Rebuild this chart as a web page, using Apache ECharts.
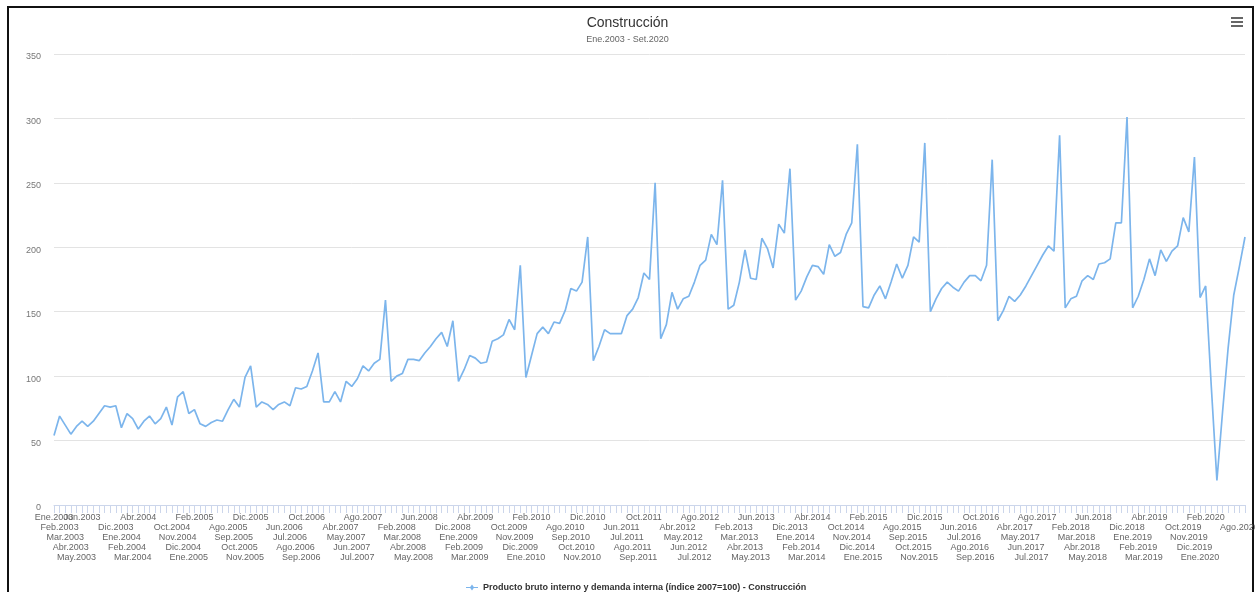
<!DOCTYPE html>
<html>
<head>
<meta charset="utf-8">
<script src="https://cdn.jsdelivr.net/npm/echarts@6/dist/echarts.min.js"></script>
<style>
html,body{margin:0;padding:0;background:#fff;}
#chart{width:1255px;height:592px;}
</style>
</head>
<body>
<div id="chart"></div>
<script>
// ---- data ----
const monthNames = ['Ene','Feb','Mar','Abr','May','Jun','Jul','Ago','Sep','Oct','Nov','Dic'];
const firstYear = 2003;
const lastYear = 2020;
const lastMonthOfLastYear = 9; // Sep 2020

const values = [
  // 2003
  54, 69, 62, 55, 61, 65, 61, 65, 71, 77, 76, 77,
  // 2004
  60, 71, 67, 59, 65, 69, 63, 67, 76, 62, 84, 88,
  // 2005
  71, 74, 63, 61, 64, 66, 65, 74, 82, 76, 99, 108,
  // 2006
  76, 80, 78, 74, 78, 80, 77, 91, 90, 92, 104, 118,
  // 2007
  80, 80, 88, 80, 96, 92, 98, 108, 104, 110, 113, 159,
  // 2008
  96, 100, 102, 113, 113, 112, 118, 123, 129, 134, 123, 143,
  // 2009
  96, 105, 116, 114, 110, 111, 127, 129, 132, 144, 136, 186,
  // 2010
  99, 116, 133, 138, 133, 142, 141, 151, 168, 166, 173, 208,
  // 2011
  112, 123, 136, 133, 133, 133, 147, 152, 161, 180, 175, 250,
  // 2012
  129, 140, 165, 152, 160, 162, 173, 186, 190, 210, 202, 252,
  // 2013
  152, 155, 173, 198, 176, 175, 207, 199, 184, 218, 211, 261,
  // 2014
  159, 166, 177, 186, 185, 179, 202, 193, 196, 210, 219, 280,
  // 2015
  154, 153, 163, 170, 160, 173, 187, 176, 186, 208, 204, 281,
  // 2016
  150, 160, 168, 173, 169, 166, 173, 178, 178, 174, 186, 268,
  // 2017
  143, 151, 162, 158, 163, 170, 178, 186, 194, 201, 197, 287,
  // 2018
  153, 160, 162, 174, 178, 175, 187, 188, 191, 219, 219, 301,
  // 2019
  153, 162, 175, 191, 178, 198, 189, 197, 201, 223, 212, 270,
  // 2020
  161, 170, 92, 19, 72, 122, 163, 185, 208
];

const yTicks = [0, 50, 100, 150, 200, 250, 300, 350];

const titleText = 'Construcción';
const subtitleText = 'Ene.2003 - Set.2020';
const seriesName = 'Producto bruto interno y demanda interna (índice 2007=100) - Construcción';

// categories built from month names and years
const categories = [];
for (let y = firstYear; y <= lastYear; y++) {
  const lastM = (y === lastYear) ? lastMonthOfLastYear : 12;
  for (let m = 0; m < lastM; m++) categories.push(monthNames[m] + '.' + y);
}

function showLabel(i) {
  if (i === categories.length - 1) return false;
  if (i < 5) return true;
  const r = i % 10;
  return r >= 1 && r <= 5;
}

const chart = echarts.init(document.getElementById('chart'), null, {renderer: 'canvas'});
const FONT = '"Liberation Sans", Arial, sans-serif';

chart.setOption({
  backgroundColor: '#fff',
  animation: false,
  title: {
    text: titleText,
    subtext: subtitleText,
    left: 'center',
    top: 11,
    itemGap: 5,
    textStyle: {fontFamily: FONT, fontSize: 14, fontWeight: 'normal', color: '#333'},
    subtextStyle: {fontFamily: FONT, fontSize: 9, color: '#666'}
  },
  legend: {
    bottom: 0,
    left: 466,
    padding: 0,
    itemWidth: 12,
    itemHeight: 8,
    icon: 'path://M0,4.4H4.2L6,2L7.8,4.4H12V5.6H7.8L6,8L4.2,5.6H0Z',
    textStyle: {fontFamily: FONT, fontSize: 9, fontWeight: 'bold', color: '#333'},
    data: [seriesName]
  },
  grid: {
    left: 54,
    right: 10,
    top: 54,
    bottom: 87,
    containLabel: false,
    outerBoundsMode: 'none'
  },
  xAxis: {
    type: 'category',
    data: categories,
    boundaryGap: false,
    axisLine: {lineStyle: {color: '#ccd6eb', width: 1}},
    axisTick: {show: true, interval: 0, length: 8, lineStyle: {color: '#ccd6eb'}},
    axisLabel: {
      interval: 0,
      hideOverlap: false,
      fontFamily: FONT,
      fontSize: 9,
      color: '#666',
      lineHeight: 10.2,
      margin: 7,
      formatter: function (val, i) {
        if (!showLabel(i)) return '';
        return '\n'.repeat(i % 5) + val;
      }
    },
    splitLine: {show: false}
  },
  yAxis: {
    type: 'value',
    min: yTicks[0],
    max: yTicks[yTicks.length - 1],
    interval: yTicks[1] - yTicks[0],
    axisLine: {show: false},
    axisTick: {show: false},
    axisLabel: {fontFamily: FONT, fontSize: 9, color: '#777', margin: 13, verticalAlign: 'top', lineHeight: 6},
    splitLine: {lineStyle: {color: '#e3e3e3', width: 1}}
  },
  series: [{
    name: seriesName,
    type: 'line',
    data: values,
    showSymbol: false,
    symbol: 'circle',
    lineStyle: {color: '#7cb5ec', width: 1.7},
    itemStyle: {color: '#7cb5ec'}
  }],
  graphic: [
    {
      type: 'rect',
      shape: {x: 8, y: 7, width: 1245, height: 600},
      style: {fill: 'none', stroke: '#111', lineWidth: 2},
      silent: true
    },
    {
      type: 'group',
      left: 1231,
      top: 17,
      children: [
        {type: 'rect', shape: {x: 0, y: 0, width: 12, height: 2}, style: {fill: '#666'}},
        {type: 'rect', shape: {x: 0, y: 4, width: 12, height: 2}, style: {fill: '#666'}},
        {type: 'rect', shape: {x: 0, y: 8, width: 12, height: 2}, style: {fill: '#666'}}
      ]
    }
  ]
});
</script>
</body>
</html>
